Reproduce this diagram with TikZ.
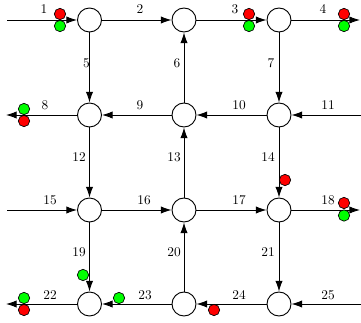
\documentclass[tikz,border=0pt]{standalone}
\usetikzlibrary{arrows.meta}
\begin{document}
\begin{tikzpicture}[x=0.75pt,y=-0.75pt,
  junction/.style={circle,draw,fill=white,line width=0.7pt,minimum size=18pt,inner sep=0pt},
  flow/.style={draw,line width=0.7pt,-{Latex[length=8pt,width=5.5pt]}},
  lbl/.style={inner sep=0pt,font=\normalsize},
  rdot/.style={circle,draw,fill=red,line width=0.5pt,minimum size=8.5pt,inner sep=0pt},
  gdot/.style={circle,draw,fill=green,line width=0.5pt,minimum size=8.5pt,inner sep=0pt}]
\useasboundingbox (0,0) rectangle (361,322);
% junctions
\node[junction] (a1) at (89.5,20) {};
\node[junction] (a2) at (184,20) {};
\node[junction] (a3) at (279,20) {};
\node[junction] (b1) at (89.5,115) {};
\node[junction] (b2) at (184,115) {};
\node[junction] (b3) at (279,115) {};
\node[junction] (c1) at (89.5,210) {};
\node[junction] (c2) at (184,210) {};
\node[junction] (c3) at (279,210) {};
\node[junction] (d1) at (89.5,304) {};
\node[junction] (d2) at (184,304) {};
\node[junction] (d3) at (279,304) {};
% free ends
\coordinate (la) at (7,20);
\coordinate (ra) at (360,20);
\coordinate (lb) at (6,115);
\coordinate (rb) at (361,115);
\coordinate (lc) at (7,210);
\coordinate (rc) at (360,210);
\coordinate (ld) at (6,304);
\coordinate (rd) at (361,304);
% connectors
\draw[flow] (la) -- (a1);
\draw[flow] (a1) -- (a2);
\draw[flow] (a2) -- (a3);
\draw[flow] (a3) -- (ra);
\draw[flow] (a1) -- (b1);
\draw[flow] (b2) -- (a2);
\draw[flow] (a3) -- (b3);
\draw[flow] (b1) -- (lb);
\draw[flow] (b2) -- (b1);
\draw[flow] (b3) -- (b2);
\draw[flow] (rb) -- (b3);
\draw[flow] (b1) -- (c1);
\draw[flow] (c2) -- (b2);
\draw[flow] (b3) -- (c3);
\draw[flow] (lc) -- (c1);
\draw[flow] (c1) -- (c2);
\draw[flow] (c2) -- (c3);
\draw[flow] (c3) -- (rc);
\draw[flow] (c1) -- (d1);
\draw[flow] (d2) -- (c2);
\draw[flow] (c3) -- (d3);
\draw[flow] (d1) -- (ld);
\draw[flow] (d2) -- (d1);
\draw[flow] (d3) -- (d2);
\draw[flow] (rd) -- (d3);
% labels
\node[lbl] (t1) at (44,9) {1};
\node[lbl] (t2) at (140,9) {2};
\node[lbl] (t3) at (235,9) {3};
\node[lbl] (t4) at (323,9) {4};
\node[lbl] (t5) at (86.5,63) {5};
\node[lbl] (t6) at (177,63) {6};
\node[lbl] (t7) at (271,63) {7};
\node[lbl] (t8) at (45,105) {8};
\node[lbl] (t9) at (140,105) {9};
\node[lbl] (t10) at (239,105) {10};
\node[lbl] (t11) at (328,105) {11};
\node[lbl] (t12) at (79,157) {12};
\node[lbl] (t13) at (174,157) {13};
\node[lbl] (t14) at (268,157) {14};
\node[lbl] (t15) at (50,200) {15};
\node[lbl] (t16) at (144,200) {16};
\node[lbl] (t17) at (239,200) {17};
\node[lbl] (t18) at (328,200) {18};
\node[lbl] (t19) at (79,252) {19};
\node[lbl] (t20) at (174,252) {20};
\node[lbl] (t21) at (268,252) {21};
\node[lbl] (t22) at (50,295) {22};
\node[lbl] (t23) at (145,295) {23};
\node[lbl] (t24) at (239,295) {24};
\node[lbl] (t25) at (328,295) {25};
% dots
\node[rdot] (r1) at (60,14) {};
\node[gdot] (g1) at (60,26) {};
\node[rdot] (r3) at (249,14) {};
\node[gdot] (g3) at (249,26) {};
\node[rdot] (r4) at (344,14) {};
\node[gdot] (g4) at (344,26) {};
\node[gdot] (g8) at (24,109) {};
\node[rdot] (r8) at (24,121) {};
\node[rdot] (r14) at (285,180) {};
\node[rdot] (r18) at (344,203) {};
\node[gdot] (g18) at (344,215.5) {};
\node[gdot] (g19) at (83,275) {};
\node[gdot] (g22) at (24,298) {};
\node[rdot] (r22) at (24,310) {};
\node[gdot] (g23) at (119,298) {};
\node[rdot] (r24) at (214,310) {};
\end{tikzpicture}
\end{document}
